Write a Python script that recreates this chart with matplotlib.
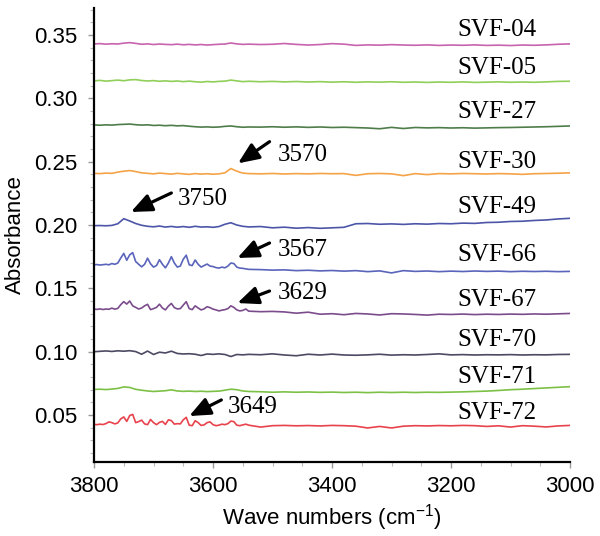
import matplotlib
matplotlib.use("Agg")
import matplotlib.pyplot as plt
from matplotlib.ticker import MultipleLocator, FormatStrFormatter

plt.rcParams['font.family'] = ['Liberation Sans', 'DejaVu Sans']
plt.rcParams['mathtext.fontset'] = 'custom'
plt.rcParams['mathtext.rm'] = 'Liberation Sans'
plt.rcParams['mathtext.it'] = 'Liberation Sans:italic'

# ---------------- data ----------------
WN_COARSE = [3800, 3790, 3780, 3770, 3760, 3750, 3740, 3730, 3720, 3710,
             3700, 3690, 3680, 3670, 3660, 3650, 3640, 3630, 3620, 3610,
             3600, 3590, 3580, 3570, 3560, 3550, 3540,
             3520, 3500, 3480, 3460, 3440, 3420, 3400, 3380, 3360, 3340,
             3320, 3300, 3280, 3260, 3240, 3220, 3200, 3180, 3160, 3140,
             3120, 3100, 3080, 3060, 3040, 3020, 3000]

WN_FINE = [3800, 3795, 3790, 3785, 3780, 3775, 3770, 3765, 3760, 3755,
           3750, 3745, 3740, 3735, 3730, 3725, 3720, 3715, 3710, 3705,
           3700, 3695, 3690, 3685, 3680, 3675, 3670, 3665, 3660, 3655,
           3650, 3645, 3640, 3635, 3630, 3625, 3620, 3615, 3610, 3605,
           3600, 3595, 3590, 3585, 3580, 3575, 3570, 3565, 3560, 3555,
           3550, 3545, 3540,
           3520, 3500, 3480, 3460, 3440, 3420, 3400, 3380, 3360, 3340,
           3320, 3300, 3280, 3260, 3240, 3220, 3200, 3180, 3160, 3140,
           3120, 3100, 3080, 3060, 3040, 3020, 3000]

svf04 = [.3430, .3432, .3428, .3431, .3429, .3436, .3440, .3434, .3427, .3430,
         .3425, .3429, .3426, .3424, .3428, .3423, .3426, .3422, .3425, .3421,
         .3424, .3427, .3429, .3437, .3430, .3426, .3428,
         .3425, .3427, .3433, .3426, .3421, .3425, .3432, .3428, .3418, .3422,
         .3420, .3424, .3421, .3419, .3422, .3418, .3421, .3419, .3422, .3418,
         .3420, .3417, .3421, .3419, .3422, .3427, .3430]

svf05 = [.3138, .3142, .3136, .3140, .3144, .3139, .3146, .3148, .3141, .3137,
         .3140, .3135, .3138, .3134, .3137, .3132, .3136, .3131, .3128, .3133,
         .3130, .3134, .3136, .3144, .3138, .3132, .3135,
         .3131, .3134, .3130, .3133, .3129, .3132, .3128, .3131, .3127, .3130,
         .3128, .3131, .3127, .3129, .3126, .3129, .3127, .3130, .3126, .3128,
         .3130, .3127, .3129, .3127, .3130, .3134, .3135]

svf27 = [.2790, .2788, .2791, .2789, .2793, .2795, .2797, .2792, .2789, .2791,
         .2786, .2788, .2784, .2787, .2783, .2785, .2780, .2776, .2773, .2775,
         .2772, .2774, .2779, .2782, .2776, .2772, .2774,
         .2773, .2776, .2772, .2775, .2771, .2774, .2770, .2772, .2769, .2766,
         .2760, .2771, .2762, .2770, .2767, .2769, .2766, .2768, .2765, .2767,
         .2769, .2770, .2772, .2774, .2776, .2779, .2782]

svf30 = [.2408, .2406, .2410, .2408, .2418, .2425, .2430, .2422, .2412, .2408,
         .2404, .2410, .2406, .2402, .2408, .2404, .2400, .2406, .2402, .2405,
         .2401, .2404, .2412, .2446, .2425, .2410, .2406,
         .2404, .2407, .2403, .2406, .2404, .2407, .2405, .2406, .2392, .2405,
         .2407, .2404, .2390, .2406, .2398, .2406, .2404, .2407, .2405, .2403,
         .2406, .2404, .2400, .2405, .2407, .2409, .2412]

svf49 = [.1995, .1996, .1994, .1997, .2010, .2050, .2032, .2012, .1998, .1990,
         .1986, .1992, .1984, .1989, .1983, .1988, .1982, .1990, .1984, .1986,
         .1982, .1988, .2006, .2018, .2000, .1990, .1985,
         .1988, .1978, .1983, .1975, .1980, .1974, .1978, .1982, .2010, .2012,
         .2006, .2009, .2005, .2010, .2007, .2012, .2010, .2015, .2013, .2020,
         .2022, .2028, .2030, .2036, .2040, .2048, .2053]

svf66 = [.1686, .1688, .1684, .1687, .1690, .1686, .1696, .1690, .1700, .1740,
         .1776, .1722, .1765, .1782, .1712, .1690, .1670, .1690, .1738, .1694,
         .1668, .1680, .1726, .1690, .1662, .1700, .1750, .1700, .1668, .1676,
         .1730, .1762, .1686, .1680, .1724, .1690, .1668, .1680, .1692, .1676,
         .1672, .1664, .1660, .1668, .1662, .1676, .1700, .1696, .1668, .1660,
         .1658, .1654, .1650,
         .1648, .1644, .1646, .1640, .1643, .1638, .1641, .1636, .1640, .1632,
         .1638, .1622, .1640, .1634, .1637, .1632, .1636, .1633, .1637, .1634,
         .1636, .1632, .1635, .1633, .1635, .1632, .1634]

svf67 = [.1336, .1334, .1338, .1333, .1337, .1335, .1344, .1336, .1342, .1372,
         .1395, .1376, .1400, .1362, .1350, .1337, .1345, .1362, .1374, .1332,
         .1340, .1350, .1375, .1345, .1330, .1360, .1381, .1348, .1338, .1340,
         .1368, .1395, .1340, .1332, .1362, .1345, .1330, .1338, .1355, .1348,
         .1336, .1330, .1322, .1328, .1332, .1340, .1362, .1350, .1330, .1322,
         .1326, .1337, .1320,
         .1316, .1318, .1314, .1304, .1312, .1296, .1300, .1292, .1302, .1298,
         .1290, .1300, .1298, .1294, .1289, .1296, .1294, .1297, .1293, .1296,
         .1294, .1297, .1295, .1298, .1296, .1299, .1302]

svf70 = [.1000, .1003, .1006, .1002, .1007, .1004, .1008, .1001, .0980, .1005,
         .0978, .0996, .0990, .1004, .0986, .0982, .0984, .0980, .0970, .0982,
         .0979, .0983, .0978, .0962, .0978, .0975, .0979,
         .0976, .0983, .0974, .0968, .0980, .0974, .0981, .0974, .0972, .0975,
         .0980, .0973, .0976, .0974, .0978, .0983, .0975, .0977, .0974, .0976,
         .0975, .0977, .0974, .0976, .0975, .0978, .0979]

svf71 = [.0702, .0704, .0701, .0705, .0710, .0722, .0718, .0703, .0696, .0690,
         .0686, .0689, .0692, .0699, .0690, .0687, .0689, .0686, .0688, .0685,
         .0687, .0689, .0696, .0704, .0700, .0690, .0686,
         .0684, .0680, .0683, .0680, .0682, .0679, .0681, .0678, .0680, .0677,
         .0680, .0678, .0680, .0678, .0680, .0679, .0681, .0683, .0686, .0689,
         .0694, .0700, .0704, .0709, .0714, .0719, .0724]

svf72 = [.0426, .0424, .0428, .0425, .0432, .0446, .0440, .0430, .0438, .0470,
         .0485, .0450, .0496, .0505, .0440, .0448, .0460, .0430, .0424, .0465,
         .0440, .0424, .0442, .0450, .0426, .0462, .0456, .0428, .0432, .0430,
         .0462, .0482, .0420, .0416, .0455, .0440, .0418, .0422, .0440, .0446,
         .0424, .0416, .0420, .0428, .0424, .0432, .0452, .0448, .0420, .0416,
         .0422, .0428, .0420,
         .0405, .0416, .0418, .0415, .0417, .0414, .0418, .0416, .0412, .0398,
         .0410, .0398, .0412, .0416, .0414, .0417, .0415, .0418, .0416, .0410,
         .0415, .0405, .0416, .0412, .0406, .0414, .0418]

sample_names = ['SVF-04', 'SVF-05', 'SVF-27', 'SVF-30', 'SVF-49',
                'SVF-66', 'SVF-67', 'SVF-70', 'SVF-71', 'SVF-72']
label_y = [0.3539, 0.3239, 0.2892, 0.2497, 0.2142,
           0.1763, 0.1408, 0.1092, 0.0800, 0.0516]

peak_labels = ['3570', '3750', '3567', '3629', '3649']
peak_tip_x = [3558, 3738, 3559, 3559, 3640]
peak_tip_y = [0.2487, 0.2103, 0.1740, 0.1384, 0.0492]
peak_tail_x = [3505, 3670, 3505, 3505, 3586]
peak_tail_y = [0.2658, 0.2253, 0.1858, 0.1479, 0.0619]
peak_text_x = [3492, 3660, 3492, 3492, 3576]
peak_text_y = [0.2553, 0.2205, 0.1803, 0.1463, 0.0563]

# ---------------- plot ----------------
series = [(WN_COARSE, svf04, '#c764ad'),
          (WN_COARSE, svf05, '#90cf5a'),
          (WN_COARSE, svf27, '#4e7d4a'),
          (WN_COARSE, svf30, '#f5a347'),
          (WN_COARSE, svf49, '#4d55a8'),
          (WN_FINE, svf66, '#5a64bb'),
          (WN_FINE, svf67, '#7b4c8c'),
          (WN_COARSE, svf70, '#4b4a62'),
          (WN_COARSE, svf71, '#7cc146'),
          (WN_FINE, svf72, '#e8434d')]

fig = plt.figure(figsize=(6.0, 5.36), dpi=100)
ax = fig.add_axes([0.1567, 0.138, 0.7933, 0.847])

for (x, y, c) in series:
    ax.plot(x, y, color=c, lw=1.2, solid_joinstyle='round')

serif = ['Liberation Serif', 'DejaVu Serif']
for name, ly in zip(sample_names, label_y):
    ax.text(3189, ly, name, family=serif, fontsize=18, ha='left', va='center')

for lab, tx, ty, sx, sy, px, py in zip(peak_labels, peak_tip_x, peak_tip_y,
                                       peak_tail_x, peak_tail_y,
                                       peak_text_x, peak_text_y):
    ax.annotate('', xy=(tx, ty), xytext=(sx, sy),
                arrowprops=dict(arrowstyle='-|>,head_length=0.7,head_width=0.3',
                                lw=2.3, color='black', mutation_scale=18,
                                shrinkA=0, shrinkB=0))
    ax.text(px, py, lab, family=serif, fontsize=18, ha='left', va='center')

ax.set_xlim(3800, 3000)
ax.set_ylim(0.0129, 0.3713)

ax.xaxis.set_major_locator(MultipleLocator(200))
ax.xaxis.set_minor_locator(MultipleLocator(50))
ax.yaxis.set_major_locator(MultipleLocator(0.05))
ax.yaxis.set_minor_locator(MultipleLocator(0.01))
ax.yaxis.set_major_formatter(FormatStrFormatter('%.2f'))

for s in ['top', 'right']:
    ax.spines[s].set_visible(False)
for s in ['left', 'bottom']:
    ax.spines[s].set_linewidth(1.6)
    ax.spines[s].set_color('black')

ax.tick_params(axis='both', which='major', direction='out', length=4,
               width=1.0, color='#999999', labelsize=16, labelcolor='black')
ax.tick_params(axis='both', which='minor', direction='out', length=3,
               width=0.8, color='#bbbbbb')
ax.tick_params(axis='x', which='major', pad=6)
ax.tick_params(axis='y', which='major', pad=8)

ax.set_xlabel('Wave numbers (cm$^{-1}$)', fontsize=16, labelpad=4)
ax.set_ylabel('Absorbance', fontsize=16, labelpad=6)

fig.savefig('out.png', dpi=100)
